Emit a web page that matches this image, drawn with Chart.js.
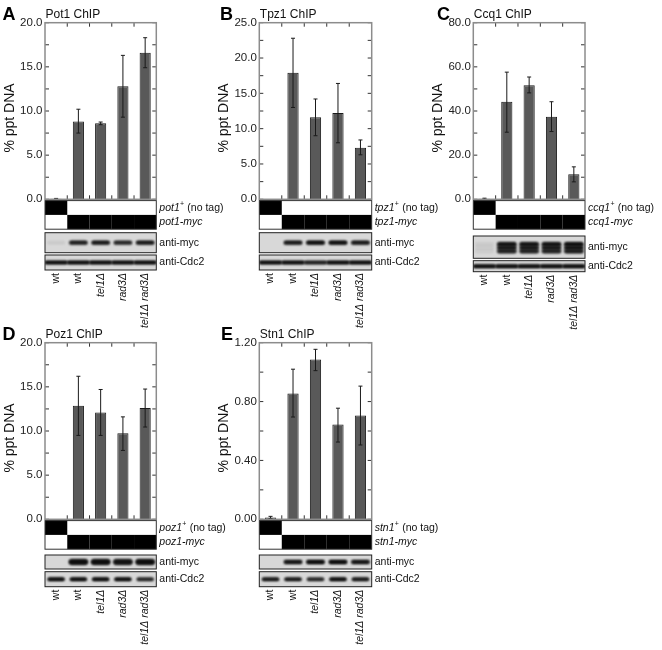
<!DOCTYPE html>
<html><head><meta charset="utf-8">
<script src="https://cdn.jsdelivr.net/npm/chart.js@4.4.1/dist/chart.umd.min.js"></script>
<style>
html,body{margin:0;padding:0;background:#fff;width:662px;height:650px;overflow:hidden;position:relative}
canvas{position:absolute}
</style></head><body>
<canvas id="cA" width="250" height="330" style="left:0px;top:0px"></canvas>
<canvas id="cB" width="250" height="330" style="left:214px;top:0px"></canvas>
<canvas id="cC" width="250" height="330" style="left:428px;top:0px"></canvas>
<canvas id="cD" width="250" height="330" style="left:0px;top:320px"></canvas>
<canvas id="cE" width="250" height="330" style="left:214px;top:320px"></canvas>
<script>
// ---------- data ----------
const strains = ['wt', 'wt', 'tel1Δ', 'rad3Δ', 'tel1Δ rad3Δ'];
const strainItalic = [false, false, true, true, true];
const noTagRow = [1, 0, 0, 0, 0];
const mycRow = [0, 1, 1, 1, 1];

const pot1Values = [0.05, 8.8, 8.6, 12.8, 16.6];
const pot1Low    = [0.0, 7.5, 8.45, 9.3, 14.9];
const pot1High   = [0.1, 10.2, 8.75, 16.3, 18.3];
const pot1Ticks  = [0, 5, 10, 15, 20];
const pot1Myc    = [0.04, 0.85, 0.9, 0.8, 0.9];
const pot1Cdc2   = [1, 1, 1, 1, 1];

const tpz1Values = [0, 17.9, 11.6, 12.2, 7.3];
const tpz1Low    = [0, 13.0, 9.0, 8.0, 6.3];
const tpz1High   = [0, 22.8, 14.2, 16.4, 8.4];
const tpz1Ticks  = [0, 5, 10, 15, 20, 25];
const tpz1Myc    = [0, 0.9, 1, 1, 0.9];
const tpz1Cdc2   = [1, 1, 0.85, 1, 1];

const ccq1Values = [0.3, 44.2, 51.7, 37.4, 11.4];
const ccq1Low    = [0.1, 30.4, 48.2, 30.7, 7.9];
const ccq1High   = [0.5, 57.6, 55.4, 44.2, 14.7];
const ccq1Ticks  = [0, 20, 40, 60, 80];
const ccq1Myc    = [0.04, 0.95, 0.95, 0.95, 1];
const ccq1Cdc2   = [1, 1, 1, 1, 1];

const poz1Values = [0, 12.85, 12.1, 9.75, 12.6];
const poz1Low    = [0, 9.5, 9.5, 7.8, 10.45];
const poz1High   = [0, 16.2, 14.7, 11.6, 14.75];
const poz1Ticks  = [0, 5, 10, 15, 20];
const poz1Myc    = [0, 1, 1, 0.95, 1];
const poz1Cdc2   = [1, 1, 1, 1, 0.8];

const stn1Values = [0.012, 0.855, 1.085, 0.645, 0.705];
const stn1Low    = [0.005, 0.695, 1.01, 0.525, 0.505];
const stn1High   = [0.02, 1.02, 1.155, 0.755, 0.905];
const stn1Ticks  = [0, 0.4, 0.8, 1.2];
const stn1Myc    = [0, 0.9, 1, 1, 0.9];
const stn1Cdc2   = [0.9, 0.9, 0.8, 1, 0.9];

// ---------- layout / style ----------
const FONT = "'Liberation Sans', Arial, Helvetica, sans-serif";
const W = 250, H = 330;

const panels = [
  {id:'cA', cx:0,   cy:0,   L:45,    R:156.3, T:22.7,  B:199.3, letter:'A', letterX:2.5,
   title:'Pot1 ChIP', gene:'pot1', values:pot1Values, low:pot1Low, high:pot1High, ticks:pot1Ticks, dec:1,
   myc:pot1Myc, cdc2:pot1Cdc2, mycBox:[33.4,53.4], cdcBox:[55.7,70.7], mycStyle:'thin', cdcStyle:'line'},
  {id:'cB', cx:214, cy:0,   L:259.3, R:371.7, T:22.7,  B:199.3, letter:'B', letterX:220,
   title:'Tpz1 ChIP', gene:'tpz1', values:tpz1Values, low:tpz1Low, high:tpz1High, ticks:tpz1Ticks, dec:1,
   myc:tpz1Myc, cdc2:tpz1Cdc2, mycBox:[33.4,53.4], cdcBox:[55.7,70.7], mycStyle:'thin', cdcStyle:'line'},
  {id:'cC', cx:428, cy:0,   L:473.3, R:585,   T:22.7,  B:199.3, letter:'C', letterX:437,
   title:'Ccq1 ChIP', gene:'ccq1', values:ccq1Values, low:ccq1Low, high:ccq1High, ticks:ccq1Ticks, dec:1,
   myc:ccq1Myc, cdc2:ccq1Cdc2, mycBox:[36.7,59], cdcBox:[61.4,72.4], mycStyle:'smear', cdcStyle:'line'},
  {id:'cD', cx:0,   cy:320, L:45,    R:156.3, T:342.7, B:519.3, letter:'D', letterX:2.5,
   title:'Poz1 ChIP', gene:'poz1', values:poz1Values, low:poz1Low, high:poz1High, ticks:poz1Ticks, dec:1,
   myc:poz1Myc, cdc2:poz1Cdc2, mycBox:[35.7,49.7], cdcBox:[52.4,67.4], mycStyle:'thick', cdcStyle:'gap'},
  {id:'cE', cx:214, cy:320, L:259.3, R:371.7, T:342.7, B:519.3, letter:'E', letterX:221,
   title:'Stn1 ChIP', gene:'stn1', values:stn1Values, low:stn1Low, high:stn1High, ticks:stn1Ticks, dec:2,
   myc:stn1Myc, cdc2:stn1Cdc2, mycBox:[35.7,49.7], cdcBox:[52.4,67.4], mycStyle:'thin', cdcStyle:'gap'}
];

const bandStyles = {
  thin:  {w:0.82, blur:0.9, layers:[{dy:0, h:3.8, a:1}]},
  thick: {w:0.86, blur:0.9, layers:[{dy:0, h:5.5, a:1}]},
  smear: {w:0.86, blur:1.1, layers:[{dy:-3, h:4, a:1}, {dy:0.5, h:4, a:0.9}, {dy:4, h:4, a:0.85}]},
  line:  {w:1.02, blur:0.8, layers:[{dy:0, h:3.4, a:1}]},
  gap:   {w:0.76, blur:0.8, layers:[{dy:0, h:3.4, a:1}]}
};

function line(ctx, x1, y1, x2, y2) { ctx.beginPath(); ctx.moveTo(x1, y1); ctx.lineTo(x2, y2); ctx.stroke(); }

function drawBlot(ctx, xs, L, R, y0, y1, bands, st) {
  const cw = xs.getPixelForValue(1) - xs.getPixelForValue(0);
  ctx.save();
  ctx.fillStyle = '#d8d8d8';
  ctx.fillRect(L, y0, R - L, y1 - y0);
  ctx.beginPath(); ctx.rect(L, y0, R - L, y1 - y0); ctx.clip();
  ctx.filter = 'blur(' + st.blur + 'px)';
  for (let pass = 0; pass < 2; pass++) {
    bands.forEach((v, i) => {
      if (v <= 0) return;
      const x = xs.getPixelForValue(i);
      st.layers.forEach(ly => {
        const a = Math.min(1, v * ly.a) * (pass === 0 ? 1 : 0.6);
        ctx.fillStyle = 'rgba(12,12,12,' + a + ')';
        const w = cw * st.w, yc = (y0 + y1) / 2 + ly.dy;
        ctx.beginPath();
        if (ctx.roundRect) ctx.roundRect(x - w / 2, yc - ly.h / 2, w, ly.h, ly.h / 2);
        else ctx.rect(x - w / 2, yc - ly.h / 2, w, ly.h);
        ctx.fill();
      });
    });
  }
  ctx.filter = 'none';
  ctx.restore();
  ctx.strokeStyle = '#222'; ctx.lineWidth = 1;
  ctx.strokeRect(L, y0, R - L, y1 - y0);
}

const extrasPlugin = {
  id: 'extras',
  afterDatasetsDraw(chart) {
    const p = chart.options.plugins.extras.panel;
    const ctx = chart.ctx, xs = chart.scales.x, ys = chart.scales.y;
    ctx.save();
    ctx.strokeStyle = '#1a1a1a'; ctx.lineWidth = 1;
    p.values.forEach((v, i) => {
      if (p.high[i] - p.low[i] <= 0) return;
      const x = xs.getPixelForValue(i);
      const yl = ys.getPixelForValue(p.low[i]), yh = ys.getPixelForValue(p.high[i]);
      line(ctx, x, yl, x, yh);
      line(ctx, x - 2, yl, x + 2, yl);
      line(ctx, x - 2, yh, x + 2, yh);
    });
    ctx.restore();
  },
  afterDraw(chart) {
    const p = chart.options.plugins.extras.panel;
    const ctx = chart.ctx, xs = chart.scales.x, ys = chart.scales.y;
    const ca = chart.chartArea;
    const L = ca.left, R = ca.right, T = ca.top, B = ca.bottom;
    const n = p.values.length;
    const cw = xs.getPixelForValue(1) - xs.getPixelForValue(0);
    ctx.save();
    // tick marks
    ctx.strokeStyle = '#333'; ctx.lineWidth = 1;
    ys.ticks.forEach(t => {
      const y = ys.getPixelForValue(t.value);
      line(ctx, L, y, L + 4, y);
      line(ctx, R - 4, y, R, y);
    });
    for (let i = 1; i < n; i++) {
      const x = (xs.getPixelForValue(i - 1) + xs.getPixelForValue(i)) / 2;
      line(ctx, x, T, x, T + 4);
      line(ctx, x, B - 4, x, B);
    }
    // frame
    ctx.strokeStyle = '#8c8c8c'; ctx.lineWidth = 1.5;
    ctx.strokeRect(L, T, R - L, B - T);

    // panel letter, title, y-axis title
    ctx.fillStyle = '#000';
    ctx.textBaseline = 'alphabetic'; ctx.textAlign = 'left';
    ctx.font = 'bold 18px ' + FONT;
    ctx.fillText(p.letter, p.letterX - p.cx, T - 3.2);
    ctx.font = '12px ' + FONT;
    ctx.fillStyle = '#111';
    ctx.fillText(p.title, L + 0.5, T - 4.6);
    ctx.save();
    ctx.translate(L - 35, (T + B) / 2 + 7);
    ctx.rotate(-Math.PI / 2);
    ctx.textAlign = 'center'; ctx.textBaseline = 'middle';
    ctx.font = '14px ' + FONT;
    ctx.fillText('% ppt DNA', 0, 0);
    ctx.restore();

    // genotype table
    const t0 = B + 1.3, rh = 14.3;
    ctx.fillStyle = '#fff';
    ctx.fillRect(L, t0, R - L, 2 * rh);
    [noTagRow, mycRow].forEach((row, r) => {
      row.forEach((v, i) => {
        if (!v) return;
        const x0 = xs.getPixelForValue(i) - cw / 2;
        ctx.fillStyle = '#000';
        ctx.fillRect(x0, t0 + r * rh, cw, rh);
      });
    });
    ctx.strokeStyle = '#333'; ctx.lineWidth = 1;
    ctx.strokeRect(L, t0, R - L, 2 * rh);

    // row labels
    const lx = R + 3;
    ctx.fillStyle = '#111';
    ctx.textAlign = 'left'; ctx.textBaseline = 'middle';
    let y1 = t0 + rh / 2 + 0.3;
    ctx.font = 'italic 10.5px ' + FONT;
    ctx.fillText(p.gene, lx, y1);
    let w = ctx.measureText(p.gene).width;
    ctx.font = '7px ' + FONT;
    ctx.fillText('+', lx + w + 0.3, y1 - 3.5);
    let w2 = ctx.measureText('+').width;
    ctx.font = '10.5px ' + FONT;
    ctx.fillText(' (no tag)', lx + w + w2 + 0.6, y1);
    ctx.font = 'italic 10.5px ' + FONT;
    ctx.fillText(p.gene + '-myc', lx, t0 + rh * 1.5 + 0.3);

    // blots
    const mb0 = B + p.mycBox[0], mb1 = B + p.mycBox[1];
    const cb0 = B + p.cdcBox[0], cb1 = B + p.cdcBox[1];
    drawBlot(ctx, xs, L, R, mb0, mb1, p.myc, bandStyles[p.mycStyle]);
    drawBlot(ctx, xs, L, R, cb0, cb1, p.cdc2, bandStyles[p.cdcStyle]);
    ctx.fillStyle = '#111';
    ctx.font = '10.5px ' + FONT;
    ctx.textAlign = 'left'; ctx.textBaseline = 'middle';
    ctx.fillText('anti-myc', lx, (mb0 + mb1) / 2);
    ctx.fillText('anti-Cdc2', lx, (cb0 + cb1) / 2);

    // strain labels (rotated)
    const ly = cb1 + 3;
    strains.forEach((s, i) => {
      const x = xs.getPixelForValue(i);
      ctx.save();
      ctx.translate(x, ly);
      ctx.rotate(-Math.PI / 2);
      ctx.textAlign = 'right'; ctx.textBaseline = 'middle';
      ctx.font = (strainItalic[i] ? 'italic ' : '') + '10.5px ' + FONT;
      ctx.fillText(s, 0, 0);
      ctx.restore();
    });
    ctx.restore();
  }
};

Chart.defaults.font.family = FONT;
Chart.defaults.color = '#111';

panels.forEach(p => {
  const majors = p.ticks;
  const all = [];
  for (let i = 0; i < majors.length; i++) {
    all.push(majors[i]);
    if (i < majors.length - 1) all.push((majors[i] + majors[i + 1]) / 2);
  }
  const yAxisWidth = p.L - p.cx;
  new Chart(document.getElementById(p.id), {
    type: 'bar',
    data: {
      labels: strains,
      datasets: [{
        data: p.values,
        backgroundColor: '#595959',
        borderColor: '#1a1a1a',
        borderWidth: 1,
        barPercentage: 0.5,
        categoryPercentage: 1.0
      }]
    },
    options: {
      responsive: false,
      animation: false,
      devicePixelRatio: 1,
      layout: {padding: {left: 0, top: p.T - p.cy, right: W - (p.R - p.cx), bottom: H - (p.B - p.cy)}},
      plugins: {legend: {display: false}, tooltip: {enabled: false}, title: {display: false},
                extras: {panel: p}},
      scales: {
        x: {display: false, offset: true},
        y: {
          min: majors[0], max: majors[majors.length - 1],
          afterBuildTicks: (scale) => { scale.ticks = all.map(v => ({value: v})); },
          afterFit: (scale) => { scale.width = yAxisWidth; },
          grid: {display: false, drawTicks: false},
          border: {display: false},
          ticks: {
            padding: 2.5,
            font: {size: 11.5},
            color: '#222',
            callback: (v) => majors.some(m => Math.abs(m - v) < 1e-9) ? Number(v).toFixed(p.dec) : ''
          }
        }
      }
    },
    plugins: [extrasPlugin]
  });
});
</script>
</body></html>
